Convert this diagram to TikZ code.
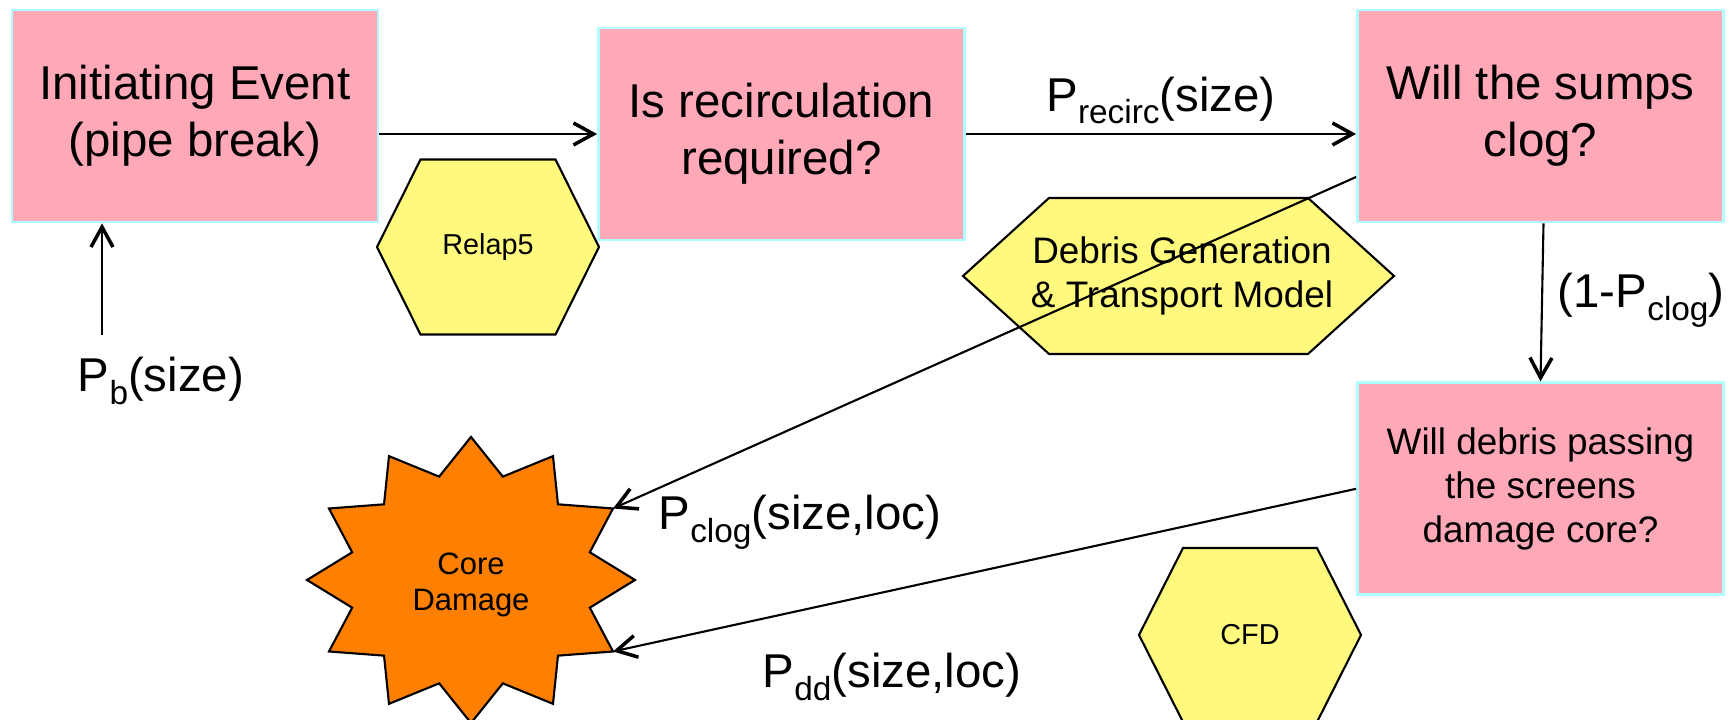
\documentclass[tikz,border=0pt]{standalone}
\usepackage{fontspec}
\setmainfont{Liberation Sans}
\usepackage{tikz}
\usetikzlibrary{arrows.meta, positioning}
\definecolor{boxpink}{RGB}{255,169,184}
\definecolor{boxedge}{RGB}{175,255,255}
\definecolor{toolyellow}{RGB}{255,250,125}
\definecolor{damageorange}{RGB}{255,128,0}
\newcommand{\lowsub}[1]{\raisebox{-0.26em}{\fontsize{9.5}{10}\selectfont #1}}
\newcommand{\hexbox}[5]{\filldraw[tool] ({#1-#3},#2) -- ({#1-#4},{#2+#5}) -- ({#1+#4},{#2+#5}) -- ({#1+#3},#2) -- ({#1+#4},{#2-#5}) -- ({#1-#4},{#2-#5}) -- cycle;}

\begin{document}
\begin{tikzpicture}[
	question/.style={draw=boxedge, line width=0.8pt, fill=boxpink, minimum width=3.66cm, minimum height=2.12cm, align=center, inner sep=0pt},
	big/.style={font=\fontsize{13.5}{16.3}\selectfont},
	mid/.style={font=\fontsize{10.5}{12.6}\selectfont},
	small/.style={font=\fontsize{8.2}{10}\selectfont},
	tool/.style={draw=black, line width=0.6pt, fill=toolyellow},
	flow/.style={line width=0.6pt, -{Straight Barb[length=2mm, width=2.2mm, line width=1pt]}}]
	\useasboundingbox (0,0) rectangle (17.29,7.2);
	%% questions of the tree
	\node[question, big] (init) at (1.95,6.04) {Initiating Event\\(pipe break)};
	\node[question, big] (recirc) at (7.815,5.86) {Is recirculation\\required?};
	\node[question, big] (sumps) at (15.405,6.04) {Will the sumps\\clog?};
	\node[question, mid, below=1.58cm of sumps] (passing) {Will debris passing\\the screens\\damage core?};
	
	%% models
	\hexbox{4.88}{4.73}{1.11}{0.675}{0.875}
	\node[small] (relap) at (4.88,4.73) {Relap5};
	\hexbox{11.785}{4.44}{2.155}{1.295}{0.78}
	\node[mid, align=center] (debris) at (11.82,4.44) {Debris Generation\\\& Transport Model};
	\hexbox{12.50}{0.85}{1.11}{0.67}{0.87}
	\node[small] (cfd) at (12.50,0.85) {CFD};
	
	%% end state
	\begin{scope}[shift={(4.71,1.40)}]
		\filldraw[draw=black, line width=0.6pt, fill=damageorange] (90:1.64cm and 1.43cm)
			\foreach \a in {90,120,...,390} { -- (\a+15:1.23cm and 1.07cm) -- (\a+30:1.64cm and 1.43cm) }
			-- (435:1.23cm and 1.07cm) -- cycle;
		\node[font=\fontsize{8.8}{10.3}\selectfont, align=center] (core) at (0,-0.05) {Core\\Damage};
		\coordinate (hitclog) at (30:1.64cm and 1.43cm);
		\coordinate (hitdd) at (-30:1.64cm and 1.43cm);
	\end{scope}
	
	%% branches
	\coordinate (pbfoot) at (1.02,3.85);
	\draw[flow] (pbfoot) -- (pbfoot |- init.south);
	\draw[flow] (recirc.west -| init.east) -- (recirc.west);
	\draw[flow] (recirc.east) -- node[big, above, inner sep=2.5pt] (precirc) {P\lowsub{recirc}(size)} (recirc.east -| sumps.west);
	\draw[flow] ([xshift=0.03cm]sumps.south) -- (passing.north);
	\draw[flow] ([yshift=-0.61cm]sumps.west) -- (hitclog);
	\draw[flow] (passing.west) -- (hitdd);
	
	\node[big, anchor=base] (pb) at (1.61,3.28) {P\lowsub{b}(size)};
	\node[big, anchor=base] (pclog) at (8.00,1.90) {P\lowsub{clog}(size,loc)};
	\node[big, anchor=base] (pdd) at (8.92,0.32) {P\lowsub{dd}(size,loc)};
	\node[big, anchor=base] (notclog) at (16.41,4.12) {(1-P\lowsub{clog})};
\end{tikzpicture}
\end{document}
